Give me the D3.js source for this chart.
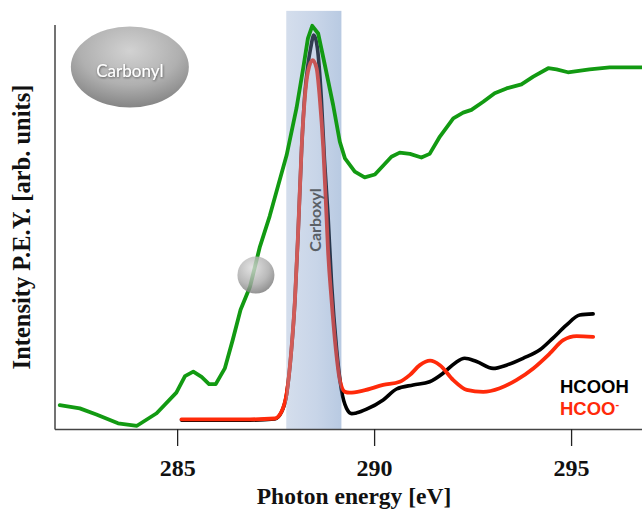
<!DOCTYPE html>
<html>
<head>
<meta charset="utf-8">
<script src="https://cdn.jsdelivr.net/npm/d3@7"></script>
<style>
  html, body { margin: 0; padding: 0; background: #fff; }
  svg { display: block; }
</style>
</head>
<body>
<svg id="chart" width="642" height="509"></svg>
<script>
// C K-edge NEXAFS spectra (partial electron yield)
const xTicks = [285, 290, 295];

// multilayer / reference spectrum (green)
const greenE = [282.02, 282.53, 282.95, 283.50, 283.98, 284.48, 284.98, 285.20, 285.41, 285.62,
  285.81, 285.98, 286.21, 286.41, 286.61, 286.85, 287.10, 287.35, 287.78, 288.03,
  288.20, 288.32, 288.43, 288.58, 288.75, 288.96, 289.13, 289.26, 289.51, 289.76,
  290.02, 290.44, 290.65, 290.91, 291.20, 291.41, 291.67, 292.01, 292.26, 292.47,
  292.77, 293.06, 293.36, 293.74, 294.04, 294.42, 294.63, 294.92, 295.47, 295.98, 296.79];
const greenI = [5.9, 5.1, 3.6, 1.4, 0.8, 3.9, 9.0, 13.1, 14.2, 12.9,
  11.1, 11.1, 15.0, 22.0, 29.5, 35.2, 45.1, 52.7, 67.8, 79.4,
  89.3, 96.7, 99.8, 97.9, 90.1, 80.2, 71.1, 67.0, 63.7, 62.3,
  63.0, 67.4, 68.4, 68.1, 67.2, 68.1, 72.4, 76.9, 78.3, 79.0,
  81.0, 83.1, 84.3, 85.3, 87.2, 89.3, 89.0, 88.3, 89.0, 89.5, 89.5];

// HCOOH
const hcoohE = [285.11, 286.85, 287.48, 287.65, 287.78, 287.90, 287.99, 288.07, 288.16, 288.24,
  288.32, 288.39, 288.47, 288.56, 288.66, 288.74, 288.83, 288.92, 289.05, 289.17,
  289.30, 289.43, 289.56, 289.81, 290.23, 290.57, 290.99, 291.41, 291.75, 292.05,
  292.30, 292.60, 293.02, 293.36, 293.78, 294.21, 294.54, 294.88, 295.22, 295.56];
const hcoohI = [2.2, 2.2, 2.5, 4.2, 8.7, 19.5, 31.8, 48.3, 69.4, 82.7,
  90.1, 94.3, 97.5, 94.3, 81.9, 66.6, 53.0, 36.1, 19.6, 9.7,
  5.1, 3.8, 4.0, 4.9, 7.2, 9.9, 10.9, 11.7, 13.8, 16.3,
  17.5, 16.7, 15.0, 15.8, 17.5, 19.6, 22.5, 25.7, 28.2, 28.5];

// HCOO-
const hcooE = [285.11, 286.85, 287.48, 287.65, 287.78, 287.90, 287.99, 288.07, 288.16, 288.24,
  288.32, 288.44, 288.54, 288.62, 288.71, 288.79, 288.83, 288.92, 289.03, 289.13,
  289.26, 289.38, 289.72, 290.23, 290.65, 290.91, 291.16, 291.42, 291.67, 292.01,
  292.35, 292.77, 293.19, 293.61, 294.04, 294.46, 294.80, 295.14, 295.56];
const hcooI = [2.4, 2.4, 2.6, 4.3, 8.8, 19.6, 31.9, 48.4, 69.5, 81.9,
  88.4, 91.3, 89.3, 81.9, 69.5, 53.0, 44.3, 31.9, 19.6, 12.1,
  9.2, 9.0, 9.5, 10.9, 11.7, 13.4, 15.8, 16.9, 15.8, 12.1,
  9.7, 9.2, 10.1, 12.1, 15.0, 18.7, 22.0, 23.0, 22.8];

const carboxylBand = [287.77, 289.17];
const bandTop = 103.5;
const carbonylMark = [283.80, 89.6];
const smallMark = [287.0, 38.1];

const svg = d3.select("#chart");
const x = d3.scaleLinear().domain([281.9, 296.8]).range([55, 642]);
const y = d3.scaleLinear().domain([0, 100]).range([429, 25]);

const defs = svg.append("defs");

// band gradient (translucent blue, slightly darker towards high energy)
const bg = defs.append("linearGradient").attr("id", "bandGrad")
  .attr("x1", "0%").attr("x2", "100%").attr("y1", "0%").attr("y2", "0%");
bg.append("stop").attr("offset", "0%").attr("stop-color", "rgb(148,172,208)");
bg.append("stop").attr("offset", "55%").attr("stop-color", "rgb(118,150,198)");
bg.append("stop").attr("offset", "100%").attr("stop-color", "rgb(78,122,182)");

const eg = defs.append("radialGradient").attr("id", "ellGrad")
  .attr("cx", "50%").attr("cy", "30%").attr("r", "70%");
eg.append("stop").attr("offset", "0%").attr("stop-color", "#d2d2d2");
eg.append("stop").attr("offset", "60%").attr("stop-color", "#b0b0b0");
eg.append("stop").attr("offset", "100%").attr("stop-color", "#858585");

const sg = defs.append("radialGradient").attr("id", "sphGrad")
  .attr("cx", "40%").attr("cy", "30%").attr("r", "75%");
sg.append("stop").attr("offset", "0%").attr("stop-color", "#dcdcdc");
sg.append("stop").attr("offset", "60%").attr("stop-color", "#a8a8a8");
sg.append("stop").attr("offset", "100%").attr("stop-color", "#707070");

const shadow = defs.append("filter").attr("id", "txtShadow")
  .attr("x", "-20%").attr("y", "-20%").attr("width", "140%").attr("height", "160%");
shadow.append("feDropShadow").attr("dx", 0.6).attr("dy", 1).attr("stdDeviation", 0.8)
  .attr("flood-color", "#000").attr("flood-opacity", 0.55);

const zip = (a, b) => a.map((v, i) => [v, b[i]]);
const smooth = d3.line().x(d => x(d[0])).y(d => y(d[1])).curve(d3.curveMonotoneX);
const straight = d3.line().x(d => x(d[0])).y(d => y(d[1])).curve(d3.curveLinear);

// spectra under the band
svg.append("path").attr("d", smooth(zip(hcoohE, hcoohI)))
  .attr("fill", "none").attr("stroke", "#000").attr("stroke-width", 3.6)
  .attr("stroke-linejoin", "round").attr("stroke-linecap", "round");
svg.append("path").attr("d", smooth(zip(hcooE, hcooI)))
  .attr("fill", "none").attr("stroke", "#ff2a0a").attr("stroke-width", 3.8)
  .attr("stroke-linejoin", "round").attr("stroke-linecap", "round");

// carboxyl region
svg.append("rect")
  .attr("x", x(carboxylBand[0])).attr("y", y(bandTop))
  .attr("width", x(carboxylBand[1]) - x(carboxylBand[0]))
  .attr("height", y(0) - y(bandTop))
  .attr("fill", "url(#bandGrad)").attr("fill-opacity", 0.4);

// reference spectrum
svg.append("path").attr("d", straight(zip(greenE, greenI)))
  .attr("fill", "none").attr("stroke", "#129a12").attr("stroke-width", 3.8)
  .attr("stroke-linejoin", "round").attr("stroke-linecap", "round");

svg.append("text")
  .attr("transform", `translate(${x((carboxylBand[0] + carboxylBand[1]) / 2) + 1},220) rotate(-90)`)
  .attr("text-anchor", "middle").attr("dominant-baseline", "central")
  .attr("font-family", "Lato, 'Open Sans', sans-serif").attr("font-size", 16).attr("font-weight", "bold")
  .attr("fill", "#5a5f66").text("Carboxyl");

// carbonyl marker
svg.append("ellipse")
  .attr("cx", x(carbonylMark[0])).attr("cy", y(carbonylMark[1]))
  .attr("rx", 59).attr("ry", 40.5).attr("fill", "url(#ellGrad)");
svg.append("text")
  .attr("x", x(carbonylMark[0])).attr("y", y(carbonylMark[1]) + 3)
  .attr("text-anchor", "middle").attr("dominant-baseline", "central")
  .attr("font-family", "Lato, 'Open Sans', sans-serif").attr("font-size", 17)
  .attr("fill", "#fff").attr("filter", "url(#txtShadow)").text("Carbonyl");

svg.append("circle")
  .attr("cx", x(smallMark[0])).attr("cy", y(smallMark[1]))
  .attr("r", 18.5).attr("fill", "url(#sphGrad)").attr("fill-opacity", 0.8);

// axes
const axisColor = "#444";
svg.append("line").attr("x1", 55).attr("x2", 55).attr("y1", 25).attr("y2", 429.5)
  .attr("stroke", axisColor).attr("stroke-width", 1.5);
const xAxis = d3.axisBottom(x).tickValues(xTicks).tickSize(17).tickSizeOuter(0).tickPadding(13);
const gx = svg.append("g").attr("transform", "translate(0,429)").call(xAxis);
gx.select(".domain").attr("stroke", axisColor).attr("stroke-width", 1.5)
  .attr("d", `M55,0.5H642`);
gx.selectAll(".tick line").attr("stroke", "#222").attr("stroke-width", 1.3);
gx.selectAll(".tick text")
  .attr("font-family", "'Liberation Serif', 'DejaVu Serif', serif")
  .attr("font-size", 24).attr("font-weight", "bold").attr("fill", "#111")
  .attr("dy", "0.71em");

svg.append("text").attr("x", 354).attr("y", 503.5)
  .attr("text-anchor", "middle")
  .attr("font-family", "'Liberation Serif', 'DejaVu Serif', serif")
  .attr("font-size", 23.5).attr("font-weight", "bold").attr("fill", "#111")
  .text("Photon energy [eV]");

svg.append("text")
  .attr("transform", "translate(30,227) rotate(-90)")
  .attr("text-anchor", "middle")
  .attr("font-family", "'Liberation Serif', 'DejaVu Serif', serif")
  .attr("font-size", 24.5).attr("font-weight", "bold").attr("fill", "#111")
  .text("Intensity P.E.Y. [arb. units]");

// legend
svg.append("text").attr("x", 560).attr("y", 393)
  .attr("font-family", "'Liberation Sans', Arial, sans-serif")
  .attr("font-size", 18.5).attr("font-weight", "bold").attr("fill", "#000")
  .text("HCOOH");
const lt = svg.append("text").attr("x", 560).attr("y", 414.5)
  .attr("font-family", "'Liberation Sans', Arial, sans-serif")
  .attr("font-size", 18.5).attr("font-weight", "bold").attr("fill", "#ff2a0a");
lt.append("tspan").text("HCOO");
lt.append("tspan").attr("dy", -7).attr("font-size", 11).text("-");
</script>
</body>
</html>
